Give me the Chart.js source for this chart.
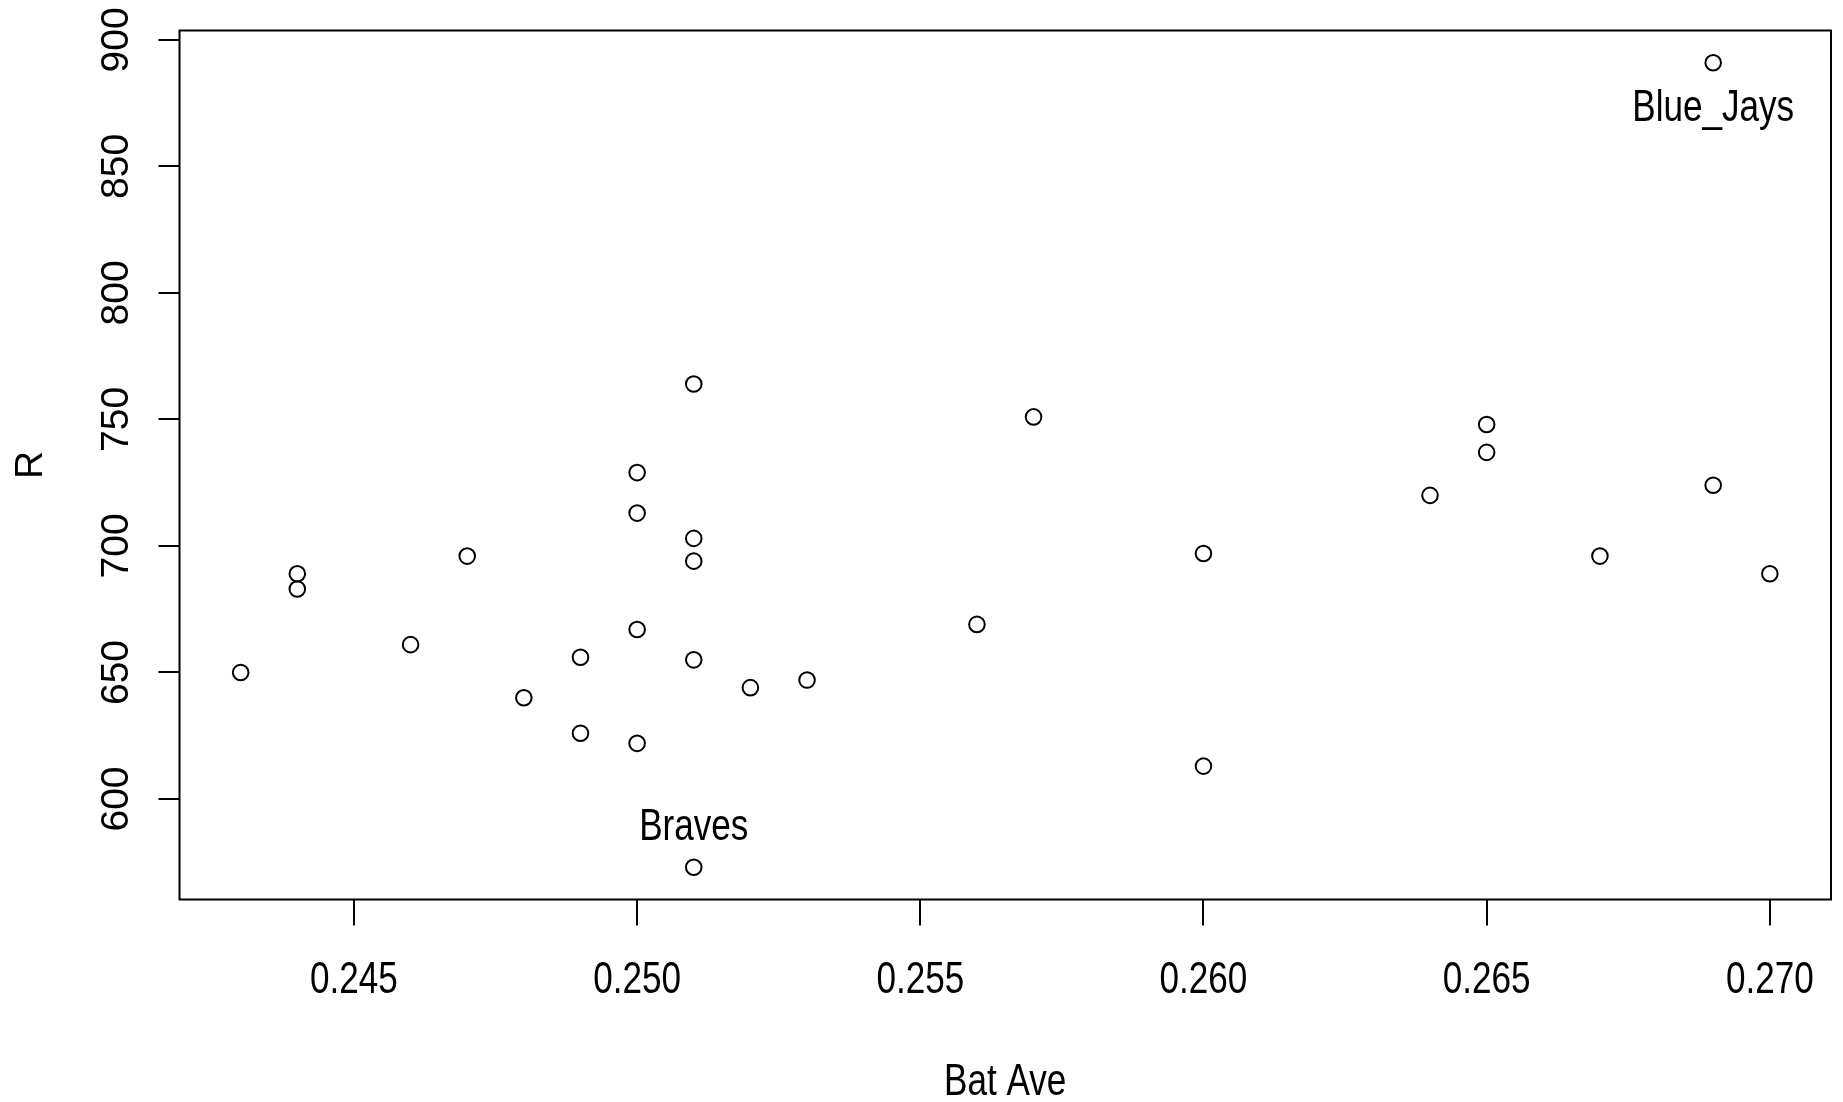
<!DOCTYPE html>
<html>
<head>
<meta charset="utf-8">
<script src="https://cdn.jsdelivr.net/npm/chart.js@4/dist/chart.umd.min.js"></script>
<style>
  html, body { margin: 0; padding: 0; background: #fff; }
  #wrap { width: 1843px; height: 1102px; }
</style>
</head>
<body>
<div id="wrap"><canvas id="c" width="1843" height="1102"></canvas></div>
<script>
// ---- data ----
const batAve = [0.243, 0.244, 0.244, 0.246, 0.247, 0.248, 0.249, 0.249, 0.250, 0.250,
                0.250, 0.250, 0.251, 0.251, 0.251, 0.251, 0.251, 0.252, 0.253, 0.256,
                0.257, 0.260, 0.260, 0.264, 0.265, 0.265, 0.267, 0.269, 0.269, 0.270];
const runs   = [650, 689, 683, 661, 696, 640, 656, 626, 729, 713,
                667, 622, 764, 703, 694, 655, 573, 644, 647, 669,
                751, 697, 613, 720, 748, 737, 696, 724, 891, 689];
const xTickValues = [0.245, 0.250, 0.255, 0.260, 0.265, 0.270];
const xTickLabels = ["0.245", "0.250", "0.255", "0.260", "0.265", "0.270"];
const yTickValues = [600, 650, 700, 750, 800, 850, 900];
const yTickLabels = ["600", "650", "700", "750", "800", "850", "900"];
const labelNames = ["Blue_Jays", "Braves"];
const labelX = [0.269, 0.251];
const labelY = [891, 573];
const labelSide = ["below", "above"];
const xTitle = "Bat Ave";
const yTitle = "R";

// R-style axis ranges (data range padded by 4%)
function pad(arr) {
  const mn = Math.min(...arr), mx = Math.max(...arr), d = (mx - mn) * 0.04;
  return [mn - d, mx + d];
}
const [xMin, xMax] = pad(batAve);
const [yMin, yMax] = pad(runs);

const HFONT = '"Liberation Sans", Arial, sans-serif';

const rPlot = {
  id: 'rPlot',
  afterDraw(chart) {
    const { ctx, chartArea: a, scales: { x, y } } = chart;
    ctx.save();
    // frame (box)
    ctx.strokeStyle = '#000';
    ctx.lineWidth = 2;
    ctx.strokeRect(a.left, a.top, a.right - a.left, a.bottom - a.top);
    ctx.fillStyle = '#000';

    const hText = (str, cx, baseY, size) => {
      ctx.save();
      ctx.translate(cx, baseY);
      ctx.scale(0.78, 1);
      ctx.font = size + 'px ' + HFONT;
      ctx.textAlign = 'center';
      ctx.textBaseline = 'alphabetic';
      ctx.fillText(str, 0, 0);
      ctx.restore();
    };
    const vText = (str, baseX, cy, size) => {
      ctx.save();
      ctx.translate(baseX, cy);
      ctx.rotate(-Math.PI / 2);
      ctx.font = size + 'px ' + HFONT;
      ctx.textAlign = 'center';
      ctx.textBaseline = 'alphabetic';
      ctx.fillText(str, 0, 0);
      ctx.restore();
    };

    // x tick labels
    xTickValues.forEach((v, i) => hText(xTickLabels[i], x.getPixelForValue(v), a.bottom + 93.5, 45));
    // y tick labels (parallel to axis)
    yTickValues.forEach((v, i) => vText(yTickLabels[i], a.left - 51.5, y.getPixelForValue(v), 39));
    // axis titles
    hText(xTitle, (a.left + a.right) / 2, a.bottom + 195.5, 45);
    vText(yTitle, a.left - 138, (a.top + a.bottom) / 2, 39);
    // point labels
    labelNames.forEach((n, i) => {
      const px = x.getPixelForValue(labelX[i]);
      const py = y.getPixelForValue(labelY[i]);
      const by = labelSide[i] === 'below' ? py + 58 : py - 27;
      hText(n, px, by, 45);
    });
    ctx.restore();
  }
};

new Chart(document.getElementById('c'), {
  type: 'scatter',
  data: {
    datasets: [{
      data: batAve.map((v, i) => ({ x: v, y: runs[i] })),
      pointStyle: 'circle',
      pointRadius: 7.8,
      pointBorderWidth: 2,
      pointBorderColor: '#000',
      pointBackgroundColor: 'rgba(0,0,0,0)',
      pointHoverRadius: 7.8
    }]
  },
  options: {
    responsive: false,
    devicePixelRatio: 1,
    animation: false,
    layout: { padding: { left: 158.5, right: 12, top: 30.5, bottom: 176.5 } },
    plugins: { legend: { display: false }, tooltip: { enabled: false } },
    scales: {
      x: {
        type: 'linear',
        min: xMin, max: xMax,
        afterBuildTicks: s => { s.ticks = xTickValues.map(v => ({ value: v })); },
        ticks: { display: false },
        grid: { display: true, drawOnChartArea: false, drawTicks: true, tickLength: 26, color: '#000', lineWidth: 2 },
        border: { display: false },
        title: { display: false }
      },
      y: {
        type: 'linear',
        min: yMin, max: yMax,
        afterBuildTicks: s => { s.ticks = yTickValues.map(v => ({ value: v })); },
        ticks: { display: false },
        grid: { display: true, drawOnChartArea: false, drawTicks: true, tickLength: 21, color: '#000', lineWidth: 2 },
        border: { display: false },
        title: { display: false }
      }
    }
  },
  plugins: [rPlot]
});
</script>
</body>
</html>
